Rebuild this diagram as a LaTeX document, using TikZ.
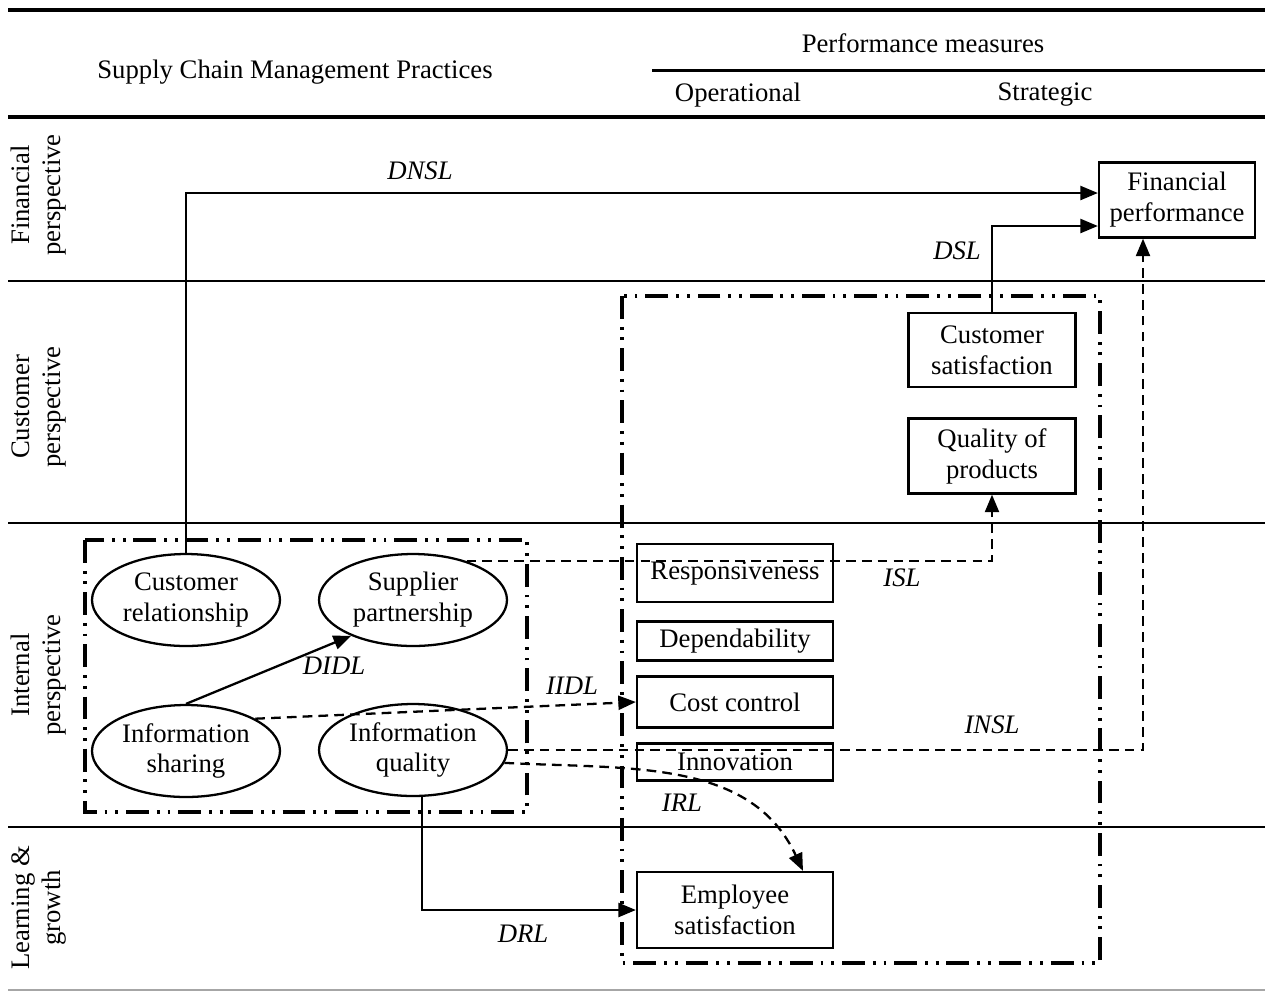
\documentclass[tikz,border=0pt]{standalone}
\usepackage{fontspec}
\setmainfont{Liberation Serif}
\usetikzlibrary{arrows.meta,shapes.geometric}

\begin{document}
\begin{tikzpicture}[x=0.02cm, y=-0.02cm,
		line width = 1.3pt,
		font=\fontsize{15.2}{17.6}\selectfont,
		box/.style={draw, rectangle, align=center, inner sep=0pt, minimum width=3.92cm},
		oval/.style={draw, ellipse, align=center, inner sep=0pt, minimum width=3.76cm, minimum height=1.84cm},
		ddbox/.style={line width=1.9pt, dash pattern=on 13pt off 4.5pt on 1.6pt off 4.5pt on 1.6pt off 4.5pt},
		dsh/.style={dash pattern=on 5.5pt off 3.5pt},
		arr/.style={-{Triangle[length=10pt,width=8pt]}},
		side/.style={rotate=90, align=center},
		lbl/.style={font=\fontsize{15.2}{17.6}\selectfont\itshape}]

	\useasboundingbox (0,0) rectangle (1268,992);

	\draw[line width=2.2pt] (8,10) -- (1265,10);
	\draw[line width=2.2pt] (8,117) -- (1265,117);
	\draw[line width=1.7pt] (652,70) -- (1265,70);
	\foreach \y in {281,523,827}
		\draw (8,\y) -- (1265,\y);
	\draw[line width=0.8pt, gray!70] (8,990) -- (1265,990);

	\node (pm) at (923,43) {Performance measures};
	\node (scm) at (295,72) {Supply Chain Management Practices};
	\node (op) at (738,95) {Operational};
	\node (st) at (1045,95) {Strategic};

	\node[side] (fp) at (39,195) {Financial\\perspective};
	\node[side] (cp) at (39,407) {Customer\\perspective};
	\node[side] (ip) at (39,675) {Internal\\perspective};
	\node[side] (lg) at (39,908) {Learning \&\\growth};

	\draw[ddbox] (85,540) rectangle (527,812);
	\draw[ddbox] (622,296) rectangle (1100,963);

	\node[box, minimum width=3.12cm, minimum height=1.5cm] (fin) at (1177,200) {Financial\\performance};
	\node[box, minimum width=3.34cm, minimum height=1.48cm] (cs) at (992,350) {Customer\\satisfaction};
	\node[box, minimum width=3.34cm, minimum height=1.5cm] (qp) at (992,456) {Quality of\\products};
	\node[box, minimum height=1.16cm] (resp) at (735,573) {Responsiveness};
	\node[box, minimum height=0.78cm] (dep) at (735,641) {Dependability};
	\node[box, minimum height=1.02cm] (cost) at (735,702) {Cost control};
	\node[box, minimum height=0.74cm] (inno) at (735,762) {Innovation};
	\node[box, minimum height=1.52cm] (emp) at (735,910) {Employee\\satisfaction};

	\node[oval] (cr) at (186,600) {Customer\\relationship};
	\node[oval] (sp) at (413,600) {Supplier\\partnership};
	\node[oval] (is) at (186,751) {Information\\sharing};
	\node[oval] (iq) at (413,750) {Information\\quality};

	\draw[arr] (cr.north) |- ([yshift=0.14cm]fin.west);
	\draw[arr] (cs.north) |- ([yshift=-0.52cm]fin.west);
	\draw[arr, dsh] (iq.east) -| ([xshift=-0.68cm]fin.south);
	\draw[arr, dsh] (sp.36) -| (qp.south);
	\draw[arr, dsh] (is.25) -- (cost.west);
	\draw[arr] (is.north) -- (sp.210);
	\draw[arr, dsh] (iq.-8) to[out=-3, in=115] ([xshift=1.36cm]emp.north);
	\draw[arr] ([xshift=0.18cm]iq.south) |- (emp.west);

	\node[lbl] (dnsl) at (420,171) {DNSL};
	\node[lbl] (dsl) at (957,251) {DSL};
	\node[lbl] (insl) at (992,725) {INSL};
	\node[lbl] (isl) at (902,578) {ISL};
	\node[lbl] (iidl) at (572,686) {IIDL};
	\node[lbl] (didl) at (334,666) {DIDL};
	\node[lbl] (irl) at (682,803) {IRL};
	\node[lbl] (drl) at (523,934) {DRL};

\end{tikzpicture}
\end{document}
